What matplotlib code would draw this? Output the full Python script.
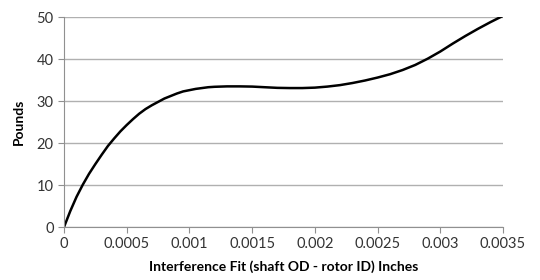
import matplotlib
matplotlib.use("Agg")
import matplotlib.pyplot as plt

# Interference fit (in) vs force (lb)
fit_in = [0.0, 0.00005, 0.0001, 0.00015, 0.0002, 0.00025, 0.0003, 0.00035,
          0.0004, 0.00045, 0.0005, 0.00055, 0.0006, 0.00065, 0.0007, 0.00075,
          0.0008, 0.00085, 0.0009, 0.00095, 0.001, 0.00105, 0.0011, 0.00115,
          0.0012, 0.0013, 0.0014, 0.0015, 0.0016, 0.0017, 0.0018, 0.0019,
          0.002, 0.0021, 0.0022, 0.0023, 0.0024, 0.0025, 0.0026, 0.0027,
          0.0028, 0.0029, 0.003, 0.0031, 0.0032, 0.0033, 0.0034, 0.0035]
pounds = [0.0, 3.8, 7.2, 10.1, 12.7, 15.0, 17.2, 19.3,
          21.1, 22.8, 24.3, 25.7, 27.0, 28.1, 29.0, 29.8,
          30.6, 31.2, 31.8, 32.3, 32.6, 32.9, 33.1, 33.3,
          33.4, 33.5, 33.5, 33.45, 33.3, 33.15, 33.1, 33.1,
          33.2, 33.45, 33.8, 34.3, 34.9, 35.6, 36.4, 37.4,
          38.6, 40.1, 41.8, 43.7, 45.5, 47.2, 48.8, 50.3]

x_ticks = [0, 0.0005, 0.001, 0.0015, 0.002, 0.0025, 0.003, 0.0035]
x_tick_labels = ["0", "0.0005", "0.001", "0.0015", "0.002", "0.0025", "0.003", "0.0035"]
y_ticks = [0, 10, 20, 30, 40, 50]

plt.rcParams["font.family"] = ["Lato", "DejaVu Sans"]

fig = plt.figure(figsize=(5.4, 2.8), dpi=100)
ax = fig.add_axes([0.1185, 0.189, 0.813, 0.75])

ax.plot(fit_in, pounds, color="black", linewidth=1.8,
        solid_joinstyle="round", solid_capstyle="round")

ax.set_xlim(0, 0.0035)
ax.set_ylim(0, 50)
ax.set_xticks(x_ticks)
ax.set_xticklabels(x_tick_labels)
ax.set_yticks(y_ticks)
ax.yaxis.grid(True, color="#b0b0b0", linewidth=1)
ax.set_axisbelow(True)

for side in ("top", "right"):
    ax.spines[side].set_visible(False)
for side in ("left", "bottom"):
    ax.spines[side].set_color("#909090")
ax.tick_params(axis="both", colors="#909090", labelcolor="#333333",
               labelsize=10.5, length=4, direction="out")

ax.set_xlabel("Interference Fit (shaft OD - rotor ID) Inches",
              fontsize=10, fontweight="bold", labelpad=6)
ax.set_ylabel("Pounds", fontsize=10, fontweight="bold", labelpad=8)

fig.savefig("out.png", dpi=100)
plt.close(fig)
